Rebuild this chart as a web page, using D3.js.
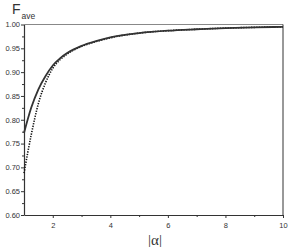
<!DOCTYPE html>
<html>
<head>
<meta charset="utf-8">
<script src="https://cdn.jsdelivr.net/npm/d3@7"></script>
<style>
  body { margin: 0; background: #fff; }
  svg text { font-family: "Liberation Sans", Arial, sans-serif; fill: #333; }
</style>
</head>
<body>
<svg id="chart" width="291" height="247"></svg>
<script>
// values
var alphaVals = [1.0, 1.25, 1.5, 1.75, 2.0, 2.25, 2.5, 3.0, 3.5, 4.0, 5.0, 6.0, 7.0, 8.0, 9.0, 10.0];
var solidVals = [0.772, 0.825, 0.864, 0.892, 0.914, 0.929, 0.940, 0.955, 0.965, 0.973, 0.982, 0.987, 0.990, 0.9925, 0.994, 0.995];
var dottedVals = [0.688, 0.768, 0.834, 0.878, 0.908, 0.926, 0.938, 0.954, 0.964, 0.972, 0.982, 0.987, 0.990, 0.9925, 0.994, 0.995];
var xTicks = [2, 4, 6, 8, 10];
var yTicks = [0.60, 0.65, 0.70, 0.75, 0.80, 0.85, 0.90, 0.95, 1.00];

var svg = d3.select("#chart");

var x = d3.scaleLinear().domain([1, 10]).range([24, 283]);
var y = d3.scaleLinear().domain([0.6, 1.0]).range([215, 24.5]);

// frame top / right
svg.append("line")
  .attr("x1", x(1)).attr("x2", x(10))
  .attr("y1", y(1)).attr("y2", y(1))
  .attr("stroke", "#888").attr("stroke-width", 1.2);
svg.append("line")
  .attr("x1", x(10)).attr("x2", x(10))
  .attr("y1", y(1)).attr("y2", y(0.6))
  .attr("stroke", "#333").attr("stroke-width", 1);

// x axis
var xAxis = svg.append("g")
  .attr("transform", "translate(0," + y(0.6) + ")")
  .call(d3.axisBottom(x).tickValues(xTicks).tickFormat(d3.format("d")).tickSize(3).tickSizeOuter(0));
svg.append("g")
  .attr("transform", "translate(0," + y(0.6) + ")")
  .call(d3.axisBottom(x).tickValues([3, 5, 7, 9]).tickFormat("").tickSize(2).tickSizeOuter(0))
  .select(".domain").remove();

// y axis
var yAxis = svg.append("g")
  .attr("transform", "translate(" + x(1) + ",0)")
  .call(d3.axisLeft(y).tickValues(yTicks).tickFormat(d3.format(".2f")).tickSize(3).tickSizeOuter(0));
svg.append("g")
  .attr("transform", "translate(" + x(1) + ",0)")
  .call(d3.axisLeft(y).tickValues(d3.range(0.625, 1.0, 0.05)).tickFormat("").tickSize(2).tickSizeOuter(0))
  .select(".domain").remove();

svg.selectAll(".domain").attr("stroke", "#333").attr("stroke-width", 1.2);
svg.selectAll(".tick line").attr("stroke", "#333");
svg.selectAll(".tick text").attr("font-size", 7.5).attr("fill", "#333")
  .attr("font-family", "Liberation Sans, Arial, sans-serif");
xAxis.selectAll(".tick text").attr("dy", "0.9em");
yAxis.selectAll(".tick text").attr("x", -4);

// curves
var line = d3.line()
  .x(function(d) { return x(d[0]); })
  .y(function(d) { return y(d[1]); })
  .curve(d3.curveMonotoneX);

svg.append("path")
  .datum(d3.zip(alphaVals, dottedVals))
  .attr("d", line)
  .attr("fill", "none")
  .attr("stroke", "#111")
  .attr("stroke-width", 1.6)
  .attr("stroke-dasharray", "1.3,1.3");

svg.append("path")
  .datum(d3.zip(alphaVals, solidVals))
  .attr("d", line)
  .attr("fill", "none")
  .attr("stroke", "#333")
  .attr("stroke-width", 1.8);

// labels
var fl = svg.append("text").attr("x", 12).attr("y", 14);
fl.append("tspan").attr("font-size", 14).text("F");
fl.append("tspan").attr("font-size", 8.5).attr("dx", 1).attr("dy", 5).text("ave");

svg.append("text")
  .attr("x", 155).attr("y", 245)
  .attr("text-anchor", "middle")
  .attr("font-size", 15)
  .style("font-family", "Liberation Serif, Times New Roman, serif")
  .text("|α|");
</script>
</body>
</html>
